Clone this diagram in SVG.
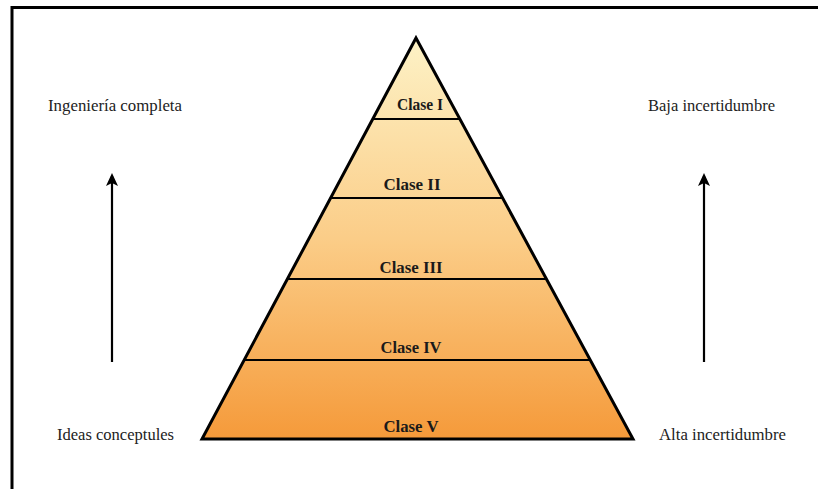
<svg xmlns="http://www.w3.org/2000/svg" width="818" height="489" viewBox="0 0 818 489">
  <style>
    .side { font-family: "Liberation Serif", "Times New Roman", serif; font-size: 16px; fill: #222; }
    .cls { font-family: "Liberation Serif", "Times New Roman", serif; font-size: 16px; font-weight: bold; fill: #1a1a1a; text-anchor: middle; }
    .band { stroke: #000; stroke-width: 2; }
    .arrow { stroke: #000; stroke-width: 2.2; fill: none; marker-end: url(#head); }
  </style>
  <defs>
    <linearGradient id="fillGrad" x1="0" y1="38" x2="0" y2="439" gradientUnits="userSpaceOnUse">
      <stop offset="0" stop-color="#fdf2c6"/>
      <stop offset="0.5" stop-color="#fbcd88"/>
      <stop offset="1" stop-color="#f59a3a"/>
    </linearGradient>
    <marker id="head" markerWidth="14" markerHeight="14" refX="10" refY="7" orient="auto" markerUnits="userSpaceOnUse" viewBox="0 0 14 14">
      <path d="M0,1 L13,7 L0,13 L3,7 Z" fill="#000"/>
    </marker>
  </defs>

  <rect width="818" height="489" fill="#fff"/>

  <!-- frame -->
  <path d="M12,489 V7.5 H818" fill="none" stroke="#000" stroke-width="3"/>

  <!-- pyramid -->
  <g id="pyramid">
    <polygon points="416,38 633,439 202,439" fill="url(#fillGrad)" stroke="#000" stroke-width="3" stroke-linejoin="miter"/>
  </g>
  <g id="bands">
    <line class="band" x1="373" y1="119" x2="460" y2="119"/>
    <line class="band" x1="331" y1="198" x2="503" y2="198"/>
    <line class="band" x1="287" y1="279" x2="546" y2="279" stroke-width="1.5"/>
    <line class="band" x1="244" y1="360" x2="590" y2="360"/>
  </g>

  <g id="clase-1"><text class="cls" x="420" y="110" textLength="46" lengthAdjust="spacingAndGlyphs">Clase I</text></g>
  <g id="clase-2"><text class="cls" x="412" y="190" textLength="57" lengthAdjust="spacingAndGlyphs">Clase II</text></g>
  <g id="clase-3"><text class="cls" x="411" y="273" textLength="63" lengthAdjust="spacingAndGlyphs">Clase III</text></g>
  <g id="clase-4"><text class="cls" x="411" y="353" textLength="61" lengthAdjust="spacingAndGlyphs">Clase IV</text></g>
  <g id="clase-5"><text class="cls" x="411" y="432" textLength="55" lengthAdjust="spacingAndGlyphs">Clase V</text></g>

  <g id="label-left-top"><text class="side" x="48" y="111" textLength="134" lengthAdjust="spacingAndGlyphs">Ingeniería completa</text></g>
  <g id="label-right-top"><text class="side" x="648" y="111" textLength="127" lengthAdjust="spacingAndGlyphs">Baja incertidumbre</text></g>
  <g id="label-left-bottom"><text class="side" x="57" y="440" textLength="117" lengthAdjust="spacingAndGlyphs">Ideas conceptules</text></g>
  <g id="label-right-bottom"><text class="side" x="659" y="440" textLength="127" lengthAdjust="spacingAndGlyphs">Alta incertidumbre</text></g>

  <g id="connectors">
    <line class="arrow" x1="112" y1="362" x2="112" y2="176"/>
    <line class="arrow" x1="704" y1="362" x2="704" y2="176"/>
  </g>
</svg>
